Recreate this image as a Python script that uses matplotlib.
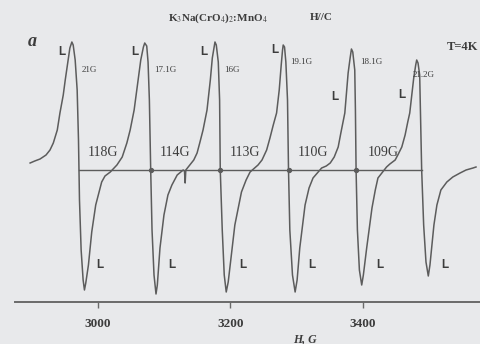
import matplotlib
matplotlib.use("Agg")
import matplotlib.pyplot as plt

# ---- data (field in G, derivative signal in arbitrary units) ----
field = [2898, 2905, 2913, 2922, 2928, 2933, 2939, 2943, 2948, 2951, 2955, 2958, 2961, 2963,
         2966, 2969, 2971, 2972.5, 2975, 2978, 2980, 2982, 2986, 2991, 2997, 3006, 3011, 3019,
         3029, 3037, 3044, 3049, 3055, 3061, 3065, 3069, 3071, 3074, 3076, 3078, 3080, 3082,
         3085, 3088, 3090, 3094, 3100, 3106, 3112, 3120, 3129, 3131, 3132, 3133, 3139, 3145,
         3150, 3154, 3159, 3165, 3170, 3173, 3176, 3177, 3179, 3182, 3184, 3185, 3188, 3191,
         3194, 3197, 3200, 3207, 3217, 3224, 3230, 3242, 3248, 3255, 3260, 3265, 3270, 3274,
         3277, 3279, 3280, 3282, 3284, 3286.5, 3288, 3290, 3294, 3298, 3301, 3305, 3313, 3319,
         3325, 3338, 3345, 3351, 3357, 3363, 3367, 3373, 3378, 3381, 3383, 3385, 3388, 3389,
         3390, 3392, 3395, 3398.5, 3401, 3406, 3414, 3419, 3423, 3436, 3441, 3449, 3453, 3459,
         3464, 3468, 3471, 3474, 3477, 3480, 3481.5, 3483.5, 3486, 3487.5, 3489, 3492, 3495.5,
         3499, 3501.5, 3504, 3507.5, 3512, 3518, 3527, 3536, 3547, 3556, 3566.5, 3571]
signal = [7, 9, 11, 15, 20, 27, 40, 57, 75, 90, 108, 122, 128, 125,
          110, 80, 30, -30, -80, -110, -120, -113, -95, -62, -35, -12, -6, -2,
          5, 13, 27, 40, 60, 90, 110, 123, 127, 124, 108, 70, 0, -60,
          -105, -124, -115, -78, -45, -25, -15, -5, 0, -1, -13, 0, 5, 10,
          17, 27, 40, 60, 90, 112, 124, 128, 125, 108, 70, 0, -60, -105,
          -122, -112, -95, -55, -22, -10, -2, 5, 10, 20, 32, 45, 57, 80,
          105, 120, 125, 123, 108, 70, 0, -60, -105, -122, -110, -78, -35, -18,
          -8, 2, 4, 7, 13, 23, 37, 57, 97, 112, 121, 118, 100, 60,
          0, -60, -100, -115, -105, -78, -38, -20, -8, 3, 6, 10, 15, 23,
          35, 48, 57, 75, 92, 105, 110, 107, 95, 50, 0, -55, -92,
          -106, -95, -78, -55, -35, -20, -12, -7, -3, 0, 2, 3]

centers = [2972.5, 3080, 3185, 3288, 3390, 3489]
linewidths = ["21G", "17.1G", "16G", "19.1G", "18.1G", "21.2G"]
splittings = ["118G", "114G", "113G", "110G", "109G"]
xticks = [3000, 3200, 3400]

# ---- style ----
BG = "#e8e9eb"
LINE = "#5c5c5c"
TXT = "#3c3c3c"
SERIF = "Liberation Serif"
SANS = "Liberation Sans"
plt.rcParams["mathtext.fontset"] = "stix"

W, H = 481, 344
fig = plt.figure(figsize=(W / 100, H / 100), dpi=100, facecolor=BG)
ax = fig.add_axes([0, 0, 1, 1], facecolor=BG)

G_PER_PX = 1.5094
x0 = 3000 - 97.7 * G_PER_PX
ax.set_xlim(x0, x0 + W * G_PER_PX)
ax.set_ylim(170 - H, 170)


def fp(px, py):
    return px / W, 1 - py / H


# spectrum
ax.plot(field, signal, color=LINE, lw=1.1, solid_joinstyle="round")
# zero-level line connecting resonance centres
ax.plot([centers[0], centers[-1]], [0, 0], color=LINE, lw=1.0)
ax.plot(centers[1:-1], [0] * (len(centers) - 2), "o", color=LINE, ms=2.8)

# axis
for s in ["top", "left", "right"]:
    ax.spines[s].set_visible(False)
ax.spines["bottom"].set_position(("data", -131.7))
ax.spines["bottom"].set_bounds(x0 + 15 * G_PER_PX, x0 + W * G_PER_PX)
ax.spines["bottom"].set_color("#6a6a6a")
ax.spines["bottom"].set_linewidth(1.4)
ax.set_yticks([])
ax.set_xticks(xticks)
ax.set_xticklabels([str(t) for t in xticks], fontfamily=SERIF, fontsize=9.5,
                   fontweight="bold", color=TXT)
ax.tick_params(axis="x", direction="out", length=4, width=1, color="#6a6a6a", pad=8)

# texts
fig.text(*fp(218, 18), "K$_3$Na(CrO$_4$)$_2$:MnO$_4$", fontfamily=SERIF, fontsize=8,
         fontweight="bold", color=TXT, ha="center", va="center")
fig.text(*fp(321, 18), "H//C", fontfamily=SERIF, fontsize=8, fontweight="bold",
         color=TXT, ha="center", va="center")
fig.text(*fp(32, 42), "a", fontfamily=SERIF, fontsize=13, fontweight="bold",
         style="italic", color=TXT, ha="center", va="center")
fig.text(*fp(478, 47), "T=4K", fontfamily=SERIF, fontsize=9, fontweight="bold",
         color=TXT, ha="right", va="center")
fig.text(*fp(305, 339), "H, G", fontfamily=SERIF, fontsize=8.5, fontweight="bold",
         style="italic", color=TXT, ha="center", va="center")

top_L = [(62, 52), (135, 52), (204, 52), (275, 50), (335, 97), (402, 95)]
for (px, py) in top_L:
    fig.text(*fp(px, py), "L", fontfamily=SANS, fontsize=8.5, fontweight="bold",
             color=TXT, ha="center", va="center")
bot_L = [(100, 265), (172, 265), (243, 265), (312, 265), (380, 265), (445, 265)]
for (px, py) in bot_L:
    fig.text(*fp(px, py), "L", fontfamily=SANS, fontsize=8.5, fontweight="bold",
             color=TXT, ha="center", va="center")

w_pos = [(82, 70), (154, 70), (224, 70), (290, 62), (360, 62), (413, 75)]
for lab, (px, py) in zip(linewidths, w_pos):
    fig.text(*fp(px, py), lab, fontfamily=SERIF, fontsize=6.5, color=TXT,
             ha="left", va="center")

s_pos = [103, 175, 245, 313, 383]
for lab, px in zip(splittings, s_pos):
    fig.text(*fp(px, 152), lab, fontfamily=SERIF, fontsize=10, color=TXT,
             ha="center", va="center")

fig.savefig("out.png", dpi=100, facecolor=BG)
